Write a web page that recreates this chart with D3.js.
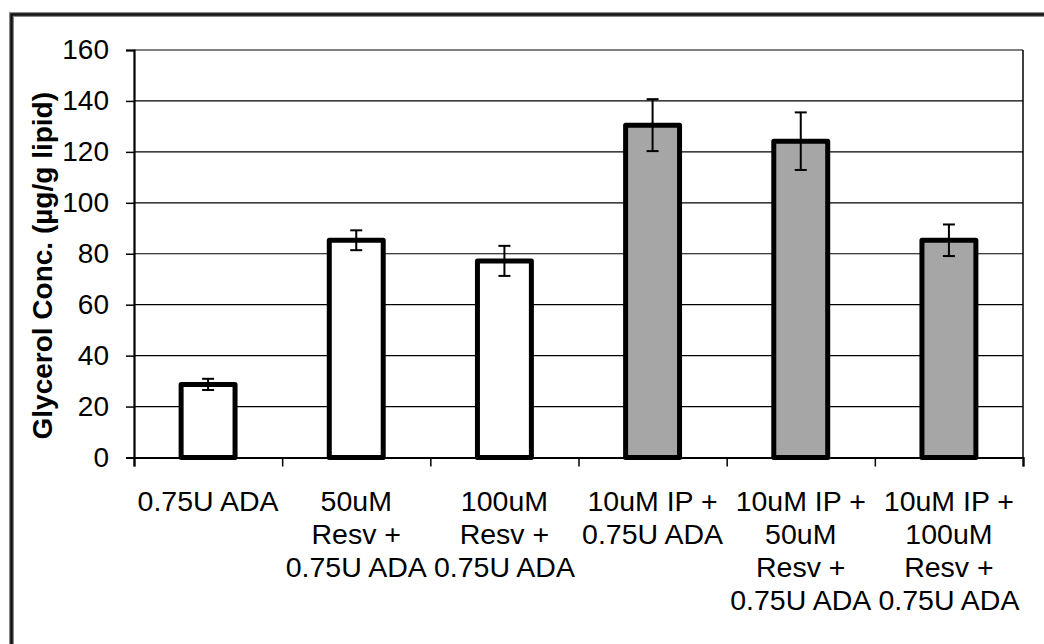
<!DOCTYPE html>
<html>
<head>
<meta charset="utf-8">
<script src="https://cdn.jsdelivr.net/npm/d3@7"></script>
<style>
  html, body { margin: 0; padding: 0; background: #ffffff; }
  svg { display: block; }
  text { font-family: "Liberation Sans", Arial, sans-serif; fill: #000; }
</style>
</head>
<body>
<svg id="chart" width="1044" height="644"></svg>
<script>
// ---- data ----
const categories = [
  ["0.75U ADA"],
  ["50uM", "Resv +", "0.75U ADA"],
  ["100uM", "Resv +", "0.75U ADA"],
  ["10uM IP +", "0.75U ADA"],
  ["10uM IP +", "50uM", "Resv +", "0.75U ADA"],
  ["10uM IP +", "100uM", "Resv +", "0.75U ADA"]
];
const values = [28.7, 85.3, 77.2, 130.5, 124.2, 85.3];
const errors = [2.2, 3.9, 5.9, 10.2, 11.3, 6.2];
const groups = ["ADA", "ADA", "ADA", "IP", "IP", "IP"];
const yTicks = [0, 20, 40, 60, 80, 100, 120, 140, 160];
const yTitle = "Glycerol Conc. (\u00b5g/g lipid)";

// ---- layout ----
const svg = d3.select("#chart");
const pLeft = 134, pRight = 1023, pTop = 50, pBottom = 457.5;
const ids = d3.range(categories.length);

const y = d3.scaleLinear().domain([0, 160]).range([pBottom, pTop]);
const x = d3.scaleBand().domain(ids).range([pLeft, pRight])
  .paddingInner(0.636).paddingOuter(0.318);
const xb = d3.scaleLinear().domain([0, categories.length]).range([pLeft, pRight]);
const fill = d3.scaleOrdinal().domain(["ADA", "IP"]).range(["#ffffff", "#a6a6a6"]);

// outer frame
svg.append("rect").attr("x", 11.5).attr("y", 14.5).attr("width", 1200).attr("height", 800)
  .attr("fill", "none").attr("stroke", "#8a8a8a").attr("stroke-width", 5);
svg.append("rect").attr("x", 11.5).attr("y", 14.5).attr("width", 1200).attr("height", 800)
  .attr("fill", "none").attr("stroke", "#111").attr("stroke-width", 2.5);

// gridlines
svg.append("g").selectAll("line").data(yTicks.filter(d => d > 0)).join("line")
  .attr("x1", pLeft).attr("x2", pRight)
  .attr("y1", d => y(d)).attr("y2", d => y(d))
  .attr("stroke", "#000").attr("stroke-width", 1.2);

// right border of plot area
svg.append("line").attr("x1", pRight).attr("x2", pRight).attr("y1", pTop).attr("y2", pBottom)
  .attr("stroke", "#000").attr("stroke-width", 1.5);

// y axis
const yAxis = svg.append("g").attr("transform", `translate(${pLeft},0)`)
  .call(d3.axisLeft(y).tickValues(yTicks).tickSize(8).tickPadding(17));
yAxis.select(".domain").attr("stroke", "#000").attr("stroke-width", 2.2);
yAxis.selectAll(".tick line").attr("stroke", "#000").attr("stroke-width", 1.5);
yAxis.selectAll(".tick text").attr("font-size", 28).attr("font-family", "Liberation Sans, Arial, sans-serif").attr("fill", "#000");

// x axis (boundary ticks)
const xAxis = svg.append("g").attr("transform", `translate(0,${pBottom})`)
  .call(d3.axisBottom(xb).tickValues(d3.range(categories.length + 1)).tickSize(9).tickFormat(""));
xAxis.select(".domain").attr("stroke", "#000").attr("stroke-width", 2.2);
xAxis.selectAll(".tick line").attr("stroke", "#000").attr("stroke-width", 1.5);

// bars
svg.append("g").selectAll("rect").data(ids).join("rect")
  .attr("x", i => x(i)).attr("width", x.bandwidth())
  .attr("y", i => y(values[i])).attr("height", i => y(0) - y(values[i]))
  .attr("fill", i => fill(groups[i]))
  .attr("stroke", "#000").attr("stroke-width", 5).attr("stroke-linejoin", "round");

// error bars
const eb = svg.append("g").attr("stroke", "#000").attr("stroke-width", 2);
ids.forEach(i => {
  const cx = x(i) + x.bandwidth() / 2;
  const hi = y(values[i] + errors[i]), lo = y(values[i] - errors[i]);
  eb.append("line").attr("x1", cx).attr("x2", cx).attr("y1", hi).attr("y2", lo);
  eb.append("line").attr("x1", cx - 6).attr("x2", cx + 6).attr("y1", hi).attr("y2", hi);
  eb.append("line").attr("x1", cx - 6).attr("x2", cx + 6).attr("y1", lo).attr("y2", lo);
});

// category labels
const lab = svg.append("g").selectAll("text").data(ids).join("text")
  .attr("text-anchor", "middle").attr("font-size", 28.5)
  .attr("x", i => x(i) + x.bandwidth() / 2).attr("y", 510.5);
lab.each(function(i) {
  const t = d3.select(this);
  categories[i].forEach((line, k) => {
    t.append("tspan").attr("x", x(i) + x.bandwidth() / 2).attr("dy", k === 0 ? 0 : 33).text(line);
  });
});

// y title
svg.append("text")
  .attr("transform", `translate(52,${(pTop + pBottom) / 2 + 12}) rotate(-90)`)
  .attr("text-anchor", "middle").attr("font-size", 28).attr("font-weight", "bold")
  .text(yTitle);
</script>
</body>
</html>
